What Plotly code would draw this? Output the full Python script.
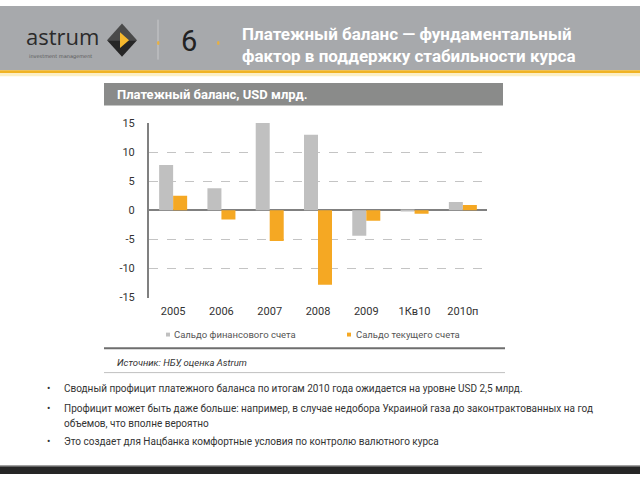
import plotly.graph_objects as go

categories = ["2005", "2006", "2007", "2008", "2009", "1Кв10", "2010п"]
financial_account = [7.8, 3.8, 15.0, 13.0, -4.4, -0.1, 1.4]
current_account = [2.5, -1.6, -5.3, -12.8, -1.8, -0.6, 0.9]
series_names = ["Сальдо финансового счета", "Сальдо текущего счета"]
series_colors = ["#c0c0c0", "#f5a823"]
y_ticks = [15, 10, 5, 0, -5, -10, -15]

W, H = 640, 480
def px(x):
    return x / W
def py(y):
    return 1 - y / H

FONT = "Roboto, Arial, sans-serif"

fig = go.Figure()
for name, vals, col in zip(series_names, [financial_account, current_account], series_colors):
    fig.add_trace(go.Bar(x=categories, y=vals, name=name,
                         marker=dict(color=col, line=dict(width=0))))

shapes = []
# header band
shapes.append(dict(type="rect", xref="paper", yref="paper", x0=0, x1=1, y0=py(66), y1=1,
                   fillcolor="#a7a9ac", line=dict(width=0), layer="below"))
shapes.append(dict(type="rect", xref="paper", yref="paper", x0=0, x1=1, y0=py(69), y1=py(66),
                   fillcolor="#f0b323", line=dict(width=0), layer="below"))
shapes.append(dict(type="rect", xref="paper", yref="paper", x0=0, x1=1, y0=py(72), y1=py(69),
                   fillcolor="#fcefc4", line=dict(width=0), layer="below"))
# separators in header
shapes.append(dict(type="line", xref="paper", yref="paper", x0=px(158), x1=px(158), y0=py(55), y1=py(14),
                   line=dict(color="#c8c9cb", width=1)))
shapes.append(dict(type="circle", xref="paper", yref="paper", x0=px(157), x1=px(159.5), y0=py(40), y1=py(36),
                   fillcolor="#e8b040", line=dict(width=0)))
shapes.append(dict(type="circle", xref="paper", yref="paper", x0=px(217), x1=px(219.5), y0=py(40), y1=py(36),
                   fillcolor="#e8b040", line=dict(width=0)))
# logo diamond
def path(points):
    return "M " + " L ".join(f"{px(x)},{py(y)}" for x, y in points) + " Z"
shapes.append(dict(type="path", xref="paper", yref="paper",
                   path=path([(107, 35), (122, 18), (137, 35)]), fillcolor="#4a4a4a", line=dict(width=0)))
shapes.append(dict(type="path", xref="paper", yref="paper",
                   path=path([(107, 35), (137, 35), (122, 52)]), fillcolor="#262626", line=dict(width=0)))
shapes.append(dict(type="path", xref="paper", yref="paper",
                   path=path([(120, 27), (129, 35), (120, 43)]), fillcolor="#f5b82e", line=dict(width=0)))
# chart title band
shapes.append(dict(type="rect", xref="paper", yref="paper", x0=px(104), x1=px(503), y0=py(102), y1=py(79),
                   fillcolor="#8a8b8a", line=dict(width=0), layer="below"))
# legend squares
shapes.append(dict(type="rect", xref="paper", yref="paper", x0=px(166), x1=px(170), y0=py(339), y1=py(335),
                   fillcolor=series_colors[0], line=dict(width=0)))
shapes.append(dict(type="rect", xref="paper", yref="paper", x0=px(347), x1=px(351), y0=py(339), y1=py(335),
                   fillcolor=series_colors[1], line=dict(width=0)))
# lines below chart
shapes.append(dict(type="line", xref="paper", yref="paper", x0=px(104), x1=px(505), y0=py(351), y1=py(351),
                   line=dict(color="#6e6e6e", width=2)))
shapes.append(dict(type="line", xref="paper", yref="paper", x0=px(104), x1=px(505), y0=py(376), y1=py(376),
                   line=dict(color="#c0c0c0", width=1)))
# bottom band
shapes.append(dict(type="rect", xref="paper", yref="paper", x0=0, x1=1, y0=0, y1=py(472),
                   fillcolor="#262626", line=dict(width=0)))
shapes.append(dict(type="line", xref="paper", yref="paper", x0=0, x1=1, y0=py(471.5), y1=py(471.5),
                   line=dict(color="#8a8a8a", width=1)))

annotations = []
def text(x, y, s, size, color, anchor="left", bold=False, italic=False, family=FONT):
    if bold:
        s = f"<b>{s}</b>"
    if italic:
        s = f"<i>{s}</i>"
    annotations.append(dict(xref="paper", yref="paper", x=px(x), y=py(y), text=s, showarrow=False,
                            xanchor=anchor, yanchor="middle", align="left",
                            font=dict(size=size, color=color, family=family)))

text(24, 31, "astrum", 22, "#2b2b2b", family="Open Sans, sans-serif")
text(27, 52, "investment management", 5, "#5a5a5a", family="DejaVu Sans, sans-serif")
text(189, 36, "6", 29, "#222222", anchor="center", family="Roboto, Arial, sans-serif")
text(240, 29, "Платежный баланс — фундаментальный", 17, "#ffffff", bold=True)
text(240, 51, "фактор в поддержку стабильности курса", 17, "#ffffff", bold=True)
text(115, 91, "Платежный баланс, USD млрд.", 13, "#ffffff", bold=True)
text(172, 337, series_names[0], 9.5, "#555555")
text(354, 337, series_names[1], 9.5, "#555555")
text(115, 366, "Источник: НБУ, оценка Astrum", 9.5, "#333333", italic=True)

bullets = [
    (392, "Сводный профицит платежного баланса по итогам 2010 года ожидается на уровне USD 2,5 млрд."),
    (413, "Профицит может быть даже больше: например, в случае недобора Украиной газа до законтрактованных на год"),
    (428, "объемов, что вполне вероятно"),
    (447, "Это создает для Нацбанка комфортные условия по контролю валютного курса"),
]
for y, s in bullets:
    text(62, y, s, 10, "#333333")
for y in (392, 413, 447):
    text(48, y, "•", 10, "#333333", anchor="center")

fig.update_layout(
    width=W, height=H,
    margin=dict(l=0, r=0, t=0, b=0),
    paper_bgcolor="#ffffff", plot_bgcolor="#ffffff",
    barmode="group", bargap=0.42, bargroupgap=0,
    font=dict(family=FONT, color="#333333"),
    xaxis=dict(domain=[px(149), px(487)], anchor="y", tickfont=dict(size=11, color="#333333"),
               showline=False, showgrid=False, ticks="", ticklabelstandoff=5),
    yaxis=dict(domain=[py(299.5), py(119.5)], range=[-15.1, 15.1], tickvals=y_ticks,
               ticktext=[str(v) for v in y_ticks], tickfont=dict(size=11, color="#333333"),
               showgrid=True, gridcolor="#c4c4c4", griddash="dash", gridwidth=1.2,
               zeroline=True, zerolinecolor="#808080", zerolinewidth=2,
               showline=True, linecolor="#808080", linewidth=2, ticks="", ticklabelstandoff=10),
    showlegend=False,
    shapes=shapes,
    annotations=annotations,
)

fig.write_html("out.html", config={"displayModeBar": False},
               post_script="document.body.style.margin='0';document.body.style.overflow='hidden';")
